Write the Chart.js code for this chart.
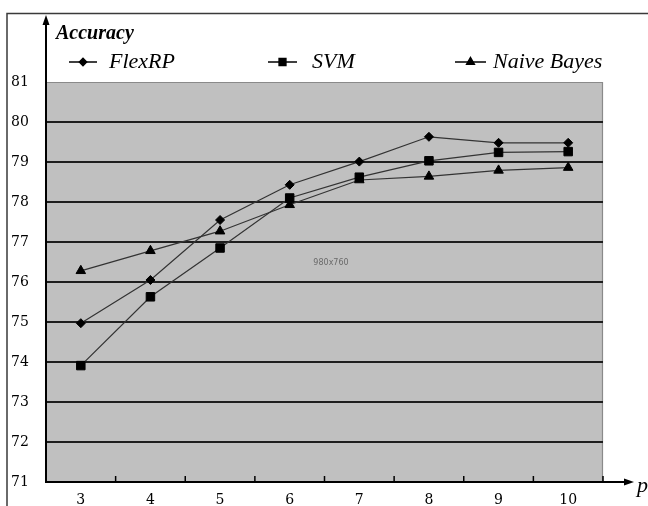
<!DOCTYPE html>
<html><head><meta charset="utf-8">
<script src="https://cdn.jsdelivr.net/npm/chart.js@4"></script>
<style>html,body{margin:0;padding:0;background:#fff;overflow:hidden}#wrap{width:648px;height:506px;position:relative}</style>
</head><body><div id="wrap"><canvas id="c" width="648" height="506"></canvas></div>
<script>
const categories = ['3', '4', '5', '6', '7', '8', '9', '10'];
const flexRP = [74.97, 76.05, 77.55, 78.43, 79.01, 79.63, 79.48, 79.48];
const svm = [73.91, 75.63, 76.85, 78.10, 78.62, 79.03, 79.24, 79.26];
const naiveBayes = [76.28, 76.78, 77.27, 77.93, 78.55, 78.64, 78.79, 78.86];
const seriesNames = ['FlexRP', 'SVM', 'Naive Bayes'];
const yMin = 71, yMax = 81, yStep = 1;
const yAxisTitle = 'Accuracy';
const xAxisTitle = 'p';
const watermark = '980x760';

const legendPos = [{x1: 69, x2: 97, tx: 109}, {x1: 268, x2: 297, tx: 312}, {x1: 455, x2: 486, tx: 493}];
const LEG_Y = 62;

const decor = {
  id: 'decor',
  beforeDraw(chart) {
    const {ctx, chartArea: a} = chart;
    ctx.save();
    ctx.fillStyle = '#fff';
    ctx.fillRect(0, 0, chart.width, chart.height);
    ctx.strokeStyle = '#3a3a3a';
    ctx.lineWidth = 1.5;
    ctx.beginPath();
    ctx.moveTo(7, chart.height); ctx.lineTo(7, 13.5); ctx.lineTo(chart.width, 13.5);
    ctx.stroke();
    ctx.fillStyle = '#c0c0c0';
    ctx.fillRect(a.left, a.top, a.right - a.left, a.bottom - a.top);
    ctx.strokeStyle = '#8a8a8a';
    ctx.lineWidth = 1.2;
    ctx.beginPath();
    ctx.moveTo(a.left, a.top + 0.5); ctx.lineTo(a.right - 0.5, a.top + 0.5); ctx.lineTo(a.right - 0.5, a.bottom);
    ctx.stroke();
    ctx.restore();
  },
  afterDraw(chart) {
    const {ctx, chartArea: a} = chart;
    const xs = chart.scales.x;
    ctx.save();
    ctx.strokeStyle = '#000'; ctx.fillStyle = '#000'; ctx.lineWidth = 2;
    ctx.beginPath(); ctx.moveTo(a.left, a.top); ctx.lineTo(a.left, 24); ctx.stroke();
    ctx.beginPath(); ctx.moveTo(a.left, 15); ctx.lineTo(a.left - 3.5, 25); ctx.lineTo(a.left + 3.5, 25); ctx.closePath(); ctx.fill();
    ctx.beginPath(); ctx.moveTo(a.right, a.bottom); ctx.lineTo(626, a.bottom); ctx.stroke();
    ctx.beginPath(); ctx.moveTo(634, a.bottom); ctx.lineTo(624, a.bottom - 3.5); ctx.lineTo(624, a.bottom + 3.5); ctx.closePath(); ctx.fill();
    ctx.lineWidth = 1.5;
    for (let i = 0; i <= categories.length; i++) {
      const px = xs.getPixelForValue(i - 0.5);
      ctx.beginPath(); ctx.moveTo(px, a.bottom); ctx.lineTo(px, a.bottom - 6); ctx.stroke();
    }
    ctx.textBaseline = 'middle'; ctx.textAlign = 'left';
    ctx.font = 'italic bold 20px "Liberation Serif"';
    ctx.fillText(yAxisTitle, 56, 34);
    ctx.font = 'italic 22px "Liberation Serif"';
    ctx.fillText(xAxisTitle, 637, a.bottom + 4);
    chart.data.datasets.forEach((ds, i) => {
      const p = legendPos[i];
      ctx.strokeStyle = '#000'; ctx.lineWidth = 1.5;
      ctx.beginPath(); ctx.moveTo(p.x1, LEG_Y); ctx.lineTo(p.x2, LEG_Y); ctx.stroke();
      ctx.fillStyle = '#000';
      Chart.helpers.drawPoint(ctx, {pointStyle: ds.pointStyle, radius: ds.pointRadius * 0.8, rotation: 0, borderWidth: 1}, (p.x1 + p.x2) / 2, LEG_Y);
      ctx.fillStyle = '#000';
      ctx.font = 'italic 22px "Liberation Serif"';
      ctx.fillText(ds.label, p.tx, LEG_Y);
    });
    ctx.fillStyle = '#6a6a6a';
    ctx.font = '8px "DejaVu Sans"';
    ctx.textAlign = 'center';
    ctx.fillText(watermark, 331, 263);
    ctx.restore();
  }
};

const mk = (label, data, style, r) => ({
  label, data, pointStyle: style, pointRadius: r, pointHoverRadius: r,
  borderColor: '#333', borderWidth: 1.2, backgroundColor: '#000',
  pointBackgroundColor: '#000', pointBorderColor: '#000', pointBorderWidth: 1,
  tension: 0, fill: false
});

new Chart(document.getElementById('c'), {
  type: 'line',
  data: {
    labels: categories,
    datasets: [
      mk(seriesNames[0], flexRP, 'rectRot', 4.5),
      mk(seriesNames[1], svm, 'rect', 6),
      mk(seriesNames[2], naiveBayes, 'triangle', 5.5)
    ]
  },
  plugins: [decor],
  options: {
    responsive: false, animation: false, devicePixelRatio: 1,
    layout: {padding: {left: 11, top: 82, right: 45, bottom: 0}},
    plugins: {legend: {display: false}, title: {display: false}, tooltip: {enabled: false}},
    scales: {
      x: {
        type: 'category', offset: true,
        grid: {display: false, drawTicks: false, offset: true},
        border: {display: true, color: '#000', width: 2},
        ticks: {color: '#000', padding: 10, font: {family: 'DejaVu Serif', size: 14}},
        afterFit(s) { s.height = 24; }
      },
      y: {
        min: yMin, max: yMax,
        grid: {drawTicks: false, lineWidth: 2, color: c => (c.tick && c.tick.value === yMax) ? 'rgba(0,0,0,0)' : '#1e1e1e'},
        border: {display: true, color: '#000', width: 2},
        ticks: {stepSize: yStep, color: '#000', crossAlign: 'far', padding: 0, font: {family: 'DejaVu Serif', size: 14}},
        afterFit(s) { s.width = 35; }
      }
    }
  }
});
</script></body></html>
